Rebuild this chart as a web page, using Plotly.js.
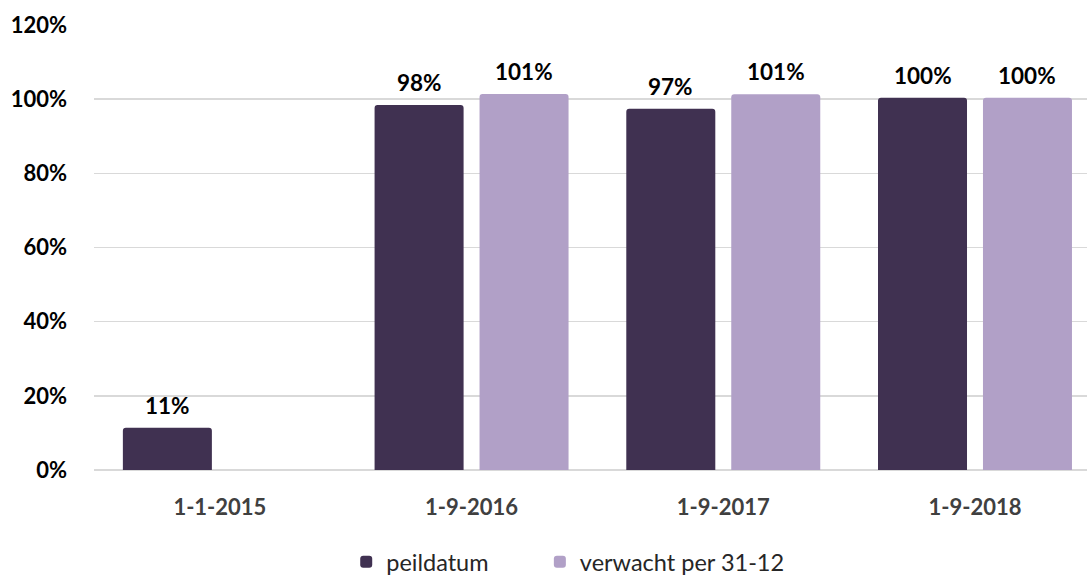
<!DOCTYPE html>
<html>
<head>
<meta charset="utf-8">
<script src="https://cdn.plot.ly/plotly-3.0.1.min.js"></script>
<style>html,body{margin:0;padding:0;background:#fff;}#chart{width:1087px;height:575px;}</style>
</head>
<body>
<div id="chart"></div>
<script>
const categories = ["1-1-2015", "1-9-2016", "1-9-2017", "1-9-2018"];
const peildatum = [0.114, 0.984, 0.974, 1.004];
const verwacht = [null, 1.014, 1.013, 1.004];
const seriesNames = ["peildatum", "verwacht per 31-12"];
const yTicks = [0, 0.2, 0.4, 0.6, 0.8, 1.0, 1.2];
const yTickLabels = ["0%", "20%", "40%", "60%", "80%", "100%", "120%"];

const FONT = "Lato, 'Open Sans', sans-serif";
const BARGAP = 0.166, BARGROUPGAP = 0.152;

const traces = [
  {type: "bar", name: seriesNames[0], x: categories, y: peildatum, legend: "legend",
   marker: {color: "#403151", cornerradius: 3}, hoverinfo: "skip"},
  {type: "bar", name: seriesNames[1], x: categories, y: verwacht, legend: "legend2",
   marker: {color: "#B1A0C7", cornerradius: 3}, hoverinfo: "skip"}
];

// data labels placed above each bar, using the group geometry of the bars
const slot = (1 - BARGAP) / 2;
const annotations = [];
[peildatum, verwacht].forEach((vals, t) => {
  const off = (t - 0.5) * slot;
  vals.forEach((v, i) => {
    if (v === null) return;
    annotations.push({
      xref: "x", yref: "y", x: i + off, y: v,
      text: Math.round(v * 100) + "%", showarrow: false,
      yanchor: "bottom", xanchor: "center", yshift: 7,
      font: {family: FONT, size: 22.5, color: "#000000", weight: 700}
    });
  });
});

const legendFont = {family: FONT, size: 23.5, color: "#262626"};

const layout = {
  width: 1087, height: 575,
  margin: {l: 94, r: 0, t: 25, b: 105, autoexpand: false},
  paper_bgcolor: "#ffffff", plot_bgcolor: "#ffffff",
  barmode: "group", bargap: BARGAP, bargroupgap: BARGROUPGAP,
  font: {family: FONT},
  xaxis: {
    type: "category", range: [-0.5, 3.445],
    showgrid: false, showline: false, zeroline: false, ticks: "",
    tickfont: {family: FONT, size: 22, color: "#404040", weight: 700},
    ticklabelstandoff: 22
  },
  yaxis: {
    range: [0, 1.2], tickvals: yTicks, ticktext: yTickLabels,
    showgrid: true, gridcolor: "#d9d9d9", gridwidth: 1.5,
    zeroline: true, zerolinecolor: "#d9d9d9", zerolinewidth: 1.5,
    showline: false, ticks: "",
    tickfont: {family: FONT, size: 22, color: "#000000", weight: 700},
    ticklabelstandoff: 26
  },
  annotations: annotations,
  showlegend: true,
  legend: {
    orientation: "h", x: 0.254, xanchor: "left", y: -0.157, yanchor: "top",
    font: legendFont, bgcolor: "rgba(0,0,0,0)"
  },
  legend2: {
    orientation: "h", x: 0.449, xanchor: "left", y: -0.157, yanchor: "top",
    font: legendFont, bgcolor: "rgba(0,0,0,0)"
  }
};

Plotly.newPlot("chart", traces, layout, {displayModeBar: false, staticPlot: true});
</script>
</body>
</html>
